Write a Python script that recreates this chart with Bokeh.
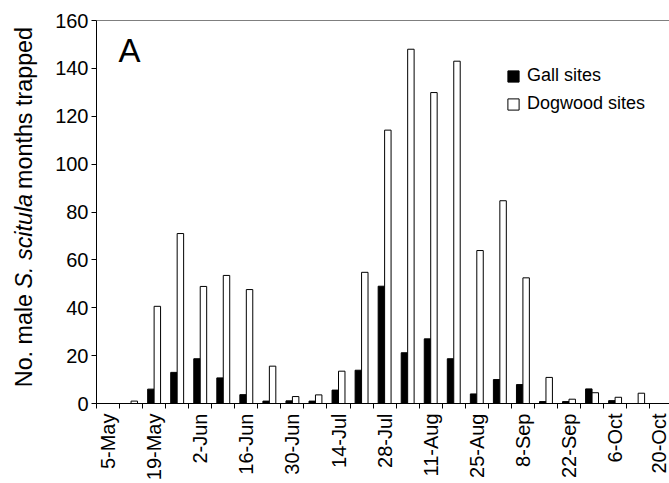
import math
from bokeh.plotting import figure
from bokeh.layouts import row
from bokeh.models import Range1d, FixedTicker, Span, Label, Legend, LegendItem
from bokeh.core.properties import value
from bokeh.embed import file_html
from bokeh.resources import INLINE

# ---- data ----
dates = ["5-May", "12-May", "19-May", "26-May", "2-Jun", "9-Jun", "16-Jun", "23-Jun",
         "30-Jun", "7-Jul", "14-Jul", "21-Jul", "28-Jul", "4-Aug", "11-Aug", "18-Aug",
         "25-Aug", "1-Sep", "8-Sep", "15-Sep", "22-Sep", "29-Sep", "6-Oct", "13-Oct", "20-Oct"]
gall = [0, 0, 6, 13, 18.7, 10.7, 3.7, 1, 1.1, 1, 5.6, 13.9, 49, 21.2, 27, 18.7,
        4, 10, 7.9, 0.8, 0.8, 6.1, 1.2, 0, 0]
dogwood = [0, 1, 40.6, 71, 48.9, 53.5, 47.6, 15.6, 2.9, 3.6, 13.5, 54.8, 114.2, 148, 129.9, 143,
           63.9, 84.7, 52.5, 10.9, 1.8, 4.5, 2.6, 4.3, 0]
y_ticks = [0, 20, 40, 60, 80, 100, 120, 140, 160]
title_parts = ["No. male", "S. scitula", "months trapped"]
title_styles = ["normal", "italic", "normal"]

FONT = "Liberation Sans"
TICK_FS = "20px"
TITLE_FS = 23.3
BAR_W = 0.28

W, H = 669, 483
TW = 40  # width of the strip holding the y-axis title
FRAME_TOP, FRAME_BOTTOM = 20, 407

idx = list(range(len(dates)))
x_gall = [i - BAR_W / 2 for i in idx]
x_dog = [i + BAR_W / 2 for i in idx]

# ---- main chart ----
p = figure(width=W - TW, height=H, output_backend="svg", toolbar_location=None,
           x_range=Range1d(-0.5, 24.36), y_range=Range1d(0, 160),
           min_border_left=96 - TW, min_border_right=0,
           min_border_top=FRAME_TOP, min_border_bottom=H - FRAME_BOTTOM)
p.background_fill_color = "white"
p.border_fill_color = "white"
p.outline_line_color = None
p.xgrid.visible = False
p.ygrid.visible = False

r_gall = p.vbar(x=x_gall, top=gall, width=BAR_W, fill_color="black", line_color="black", line_width=1)
r_dog = p.vbar(x=x_dog, top=dogwood, width=BAR_W, fill_color="white", line_color="black", line_width=1)

xa = p.xaxis[0]
xa.ticker = FixedTicker(ticks=idx[::2], minor_ticks=[i - 0.5 for i in range(len(dates) + 1)])
xa.major_label_overrides = {i: dates[i] for i in idx[::2]}
xa.major_tick_out = 0
xa.major_tick_in = 0
xa.minor_tick_out = 5
xa.minor_tick_in = 0
xa.minor_tick_line_color = "black"
xa.axis_line_color = "black"
xa.major_label_orientation = math.pi / 2
xa.major_label_text_font = FONT
xa.major_label_text_font_size = TICK_FS
xa.major_label_text_color = "black"
xa.major_label_standoff = 5

ya = p.yaxis[0]
ya.ticker = FixedTicker(ticks=y_ticks, minor_ticks=[])
ya.major_tick_out = 5
ya.major_tick_in = 0
ya.major_tick_line_color = "black"
ya.axis_line_color = "black"
ya.major_label_text_font = FONT
ya.major_label_text_font_size = TICK_FS
ya.major_label_text_color = "black"
ya.major_label_standoff = 3

p.add_layout(Span(location=160, dimension="width", line_color="black", line_width=1))

legend = Legend(items=[LegendItem(label="Gall sites", renderers=[r_gall]),
                       LegendItem(label="Dogwood sites", renderers=[r_dog])],
                location=(410, 289), glyph_width=14, glyph_height=14,
                label_text_font=FONT, label_text_font_size="18px", label_text_color="black",
                border_line_color=None, background_fill_alpha=0, padding=0, margin=0,
                spacing=7, label_standoff=7)
p.add_layout(legend)

p.add_layout(Label(x=0.454, y=147.6, text="A", text_font=FONT, text_font_size="33px",
                   text_color="black", text_baseline="alphabetic", text_align="left"))

# ---- y-axis title strip: y data = page pixels counted from the bottom ----
t = figure(width=TW, height=H, output_backend="svg", toolbar_location=None,
           x_range=Range1d(0, TW), y_range=Range1d(H - FRAME_BOTTOM, H - FRAME_TOP),
           x_axis_location=None, y_axis_location=None,
           min_border_left=0, min_border_right=0,
           min_border_top=FRAME_TOP, min_border_bottom=H - FRAME_BOTTOM)
t.outline_line_color = None
t.xgrid.visible = False
t.ygrid.visible = False
t.background_fill_color = "white"
t.border_fill_color = "white"

f = TITLE_FS
part_w = [4.001 * f, 4.057 * f, 6.948 * f]   # Arial advance widths
space = 0.278 * f
bottom_page_y = 390
starts = [0, part_w[0] + space, part_w[0] + part_w[1] + 2 * space]
for txt, style, s0, w in zip(title_parts, title_styles, starts, part_w):
    center_page_y = bottom_page_y - s0 - w / 2
    t.text(x=[23], y=[H - center_page_y], text=[txt], angle=math.pi / 2,
           text_font=value(FONT), text_font_size=value(f"{f}px"), text_font_style=style,
           text_color="black", text_baseline="middle", text_align="center")

layout = row(t, p, spacing=0)
open("out.html", "w").write(file_html(layout, INLINE))
